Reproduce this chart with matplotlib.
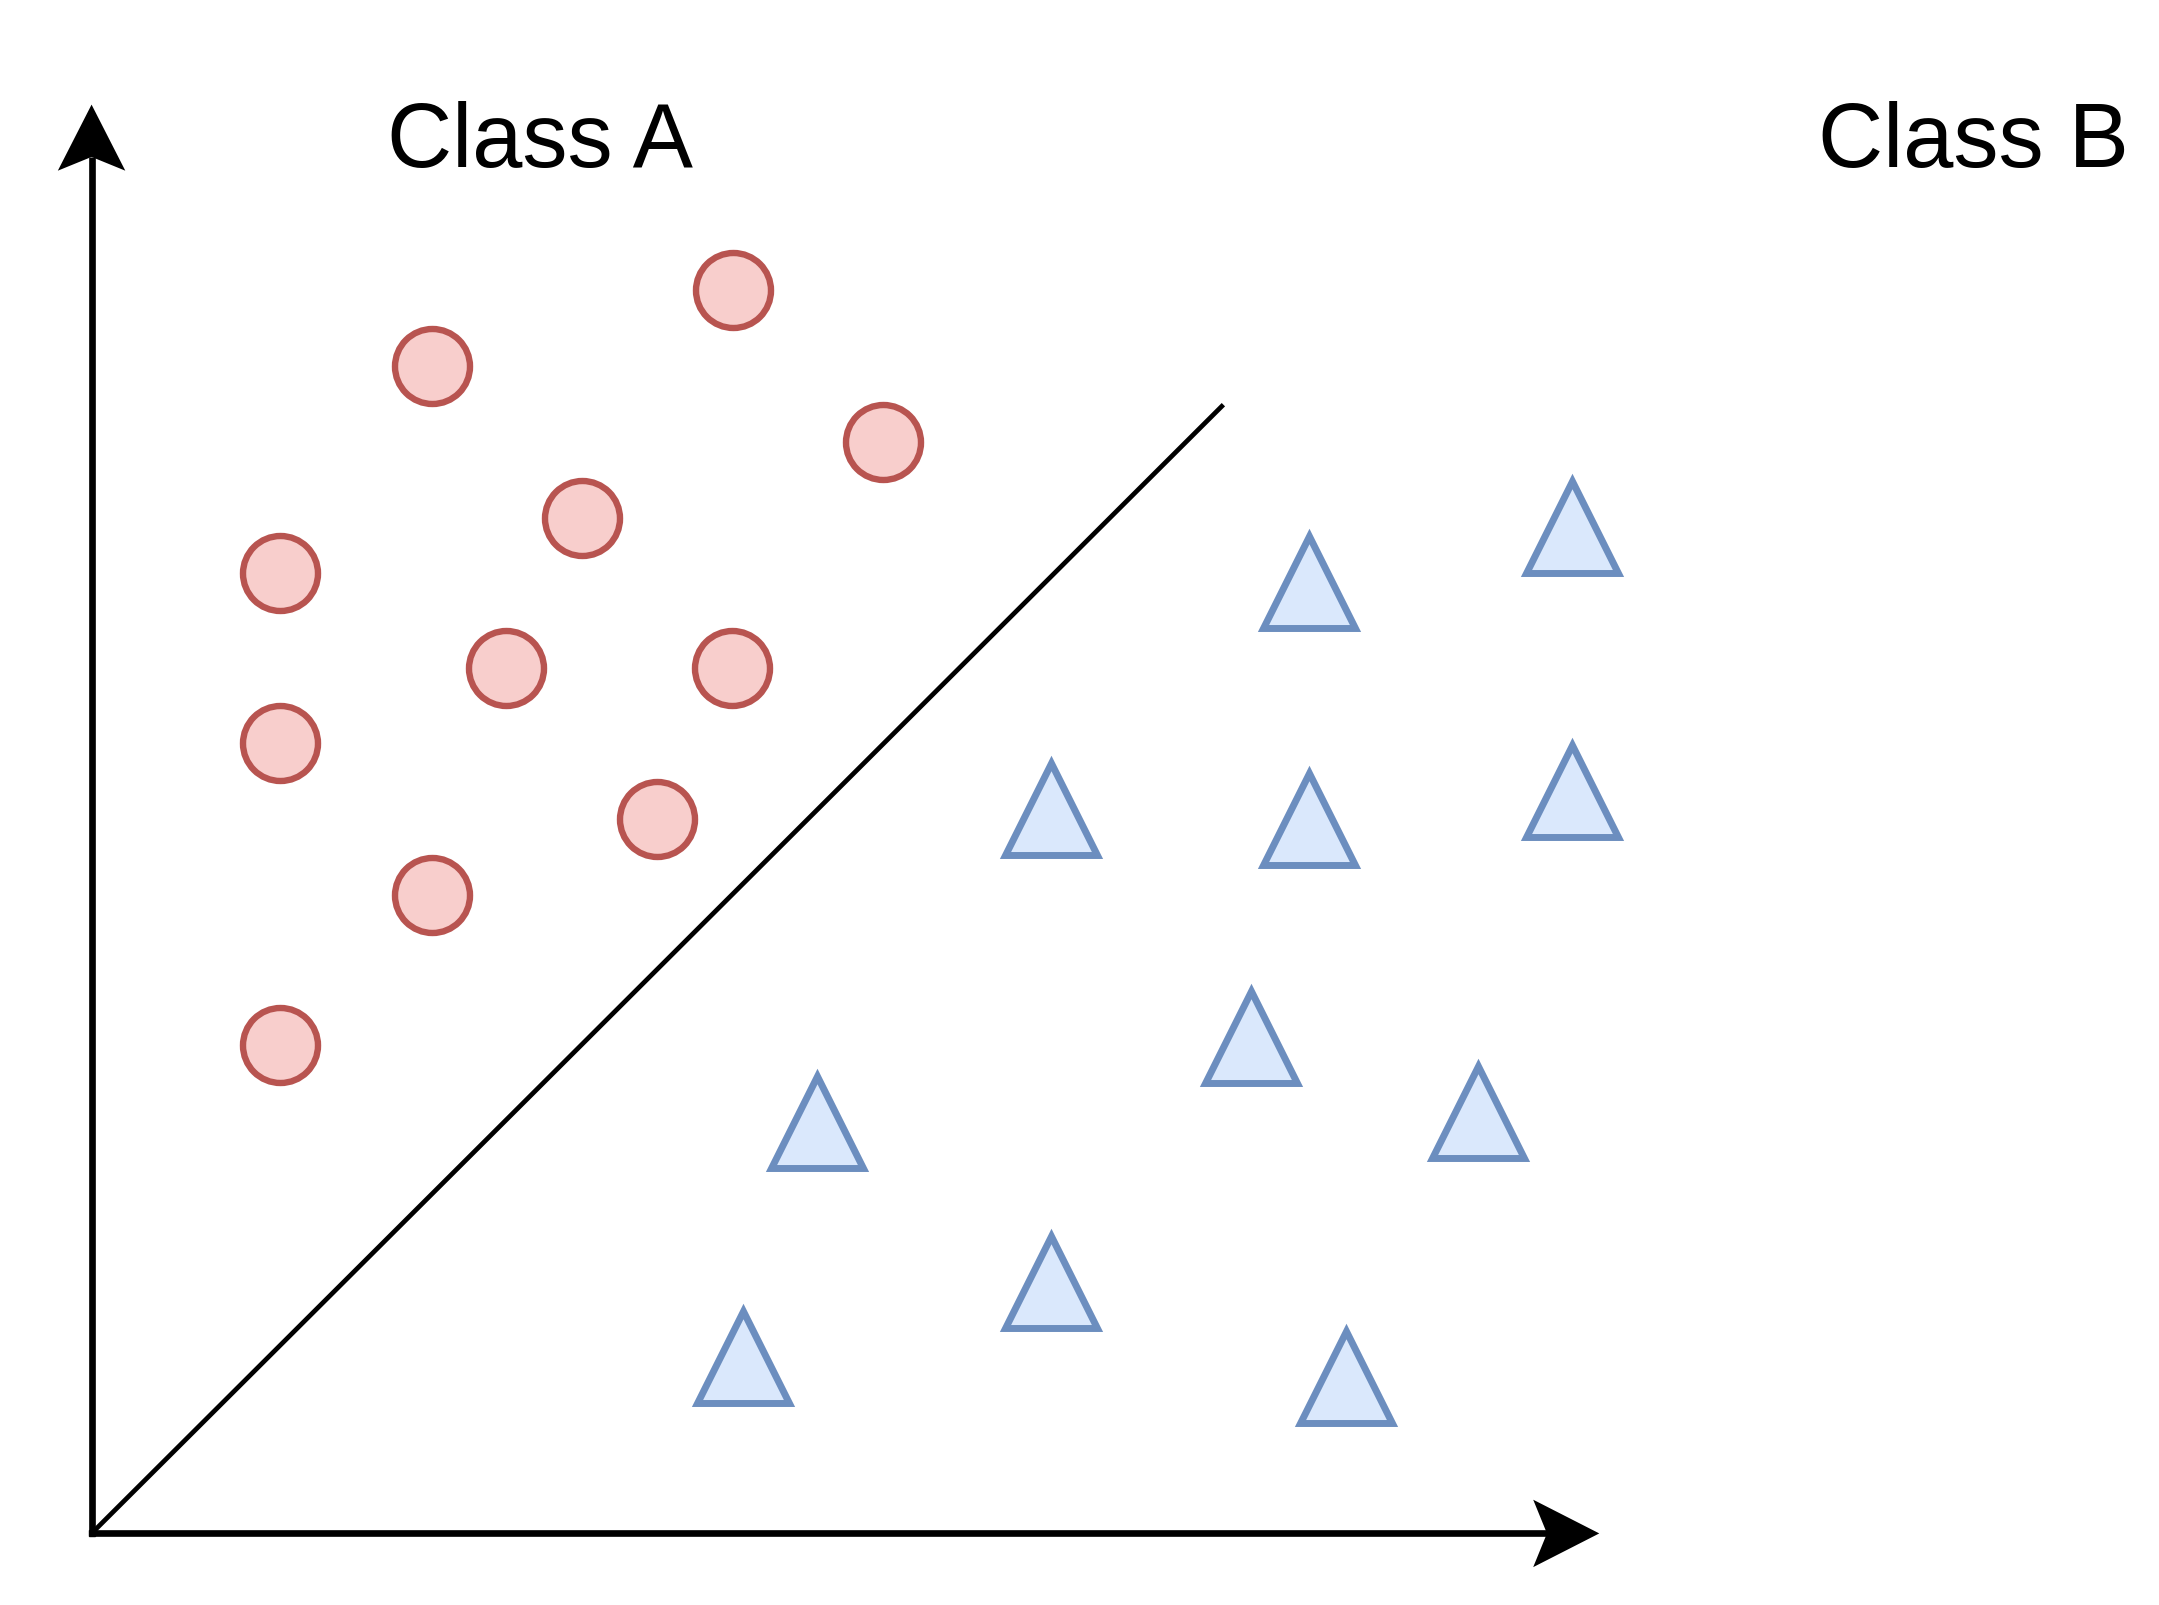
import matplotlib
matplotlib.use("Agg")
import matplotlib.pyplot as plt
from matplotlib.patches import Polygon

# ---- data (abstract units, origin at the axes corner) ----
class_a_x = [4.66, 2.47, 5.75, 3.56, 1.37, 3.01, 4.65, 1.37, 4.11, 2.47, 1.37]
class_a_y = [9.03, 8.48, 7.93, 7.38, 6.98, 6.29, 6.29, 5.74, 5.19, 4.64, 3.55]

class_b_x = [8.84, 10.75, 6.97, 8.84, 10.75, 8.42, 5.27, 10.07, 6.97, 4.73, 9.11]
class_b_y = [6.91, 7.31, 5.26, 5.19, 5.39, 3.61, 2.99, 3.06, 1.83, 1.28, 1.14]

boundary_x = [0.0, 8.22]
boundary_y = [0.0, 8.20]

labels = ["Class A", "Class B"]

# ---- figure ----
W, H = 2159, 1605
fig = plt.figure(figsize=(W / 100, H / 100), dpi=100)
ax = fig.add_axes([0, 0, 1, 1])
ax.set_xlim(-0.665, 15.015)
ax.set_ylim(-0.52, 11.14)
ax.axis("off")

# axes arrows
x_end, y_end = 10.95, 10.38
head_len, head_half, notch = 0.48, 0.245, 0.10
lw_axis = 4.8
ax.plot([0, x_end - head_len + notch], [0, 0], color="black", lw=lw_axis,
        solid_capstyle="butt", zorder=3)
ax.plot([0, 0], [0, y_end - head_len + notch], color="black", lw=lw_axis,
        solid_capstyle="butt", zorder=3)
ax.plot([0], [0], marker="s", markersize=lw_axis, color="black", zorder=3)
ax.add_patch(Polygon([(x_end, 0), (x_end - head_len, head_half),
                      (x_end - head_len + notch, 0), (x_end - head_len, -head_half)],
                     closed=True, color="black", lw=0, zorder=3))
ax.add_patch(Polygon([(0, y_end), (head_half, y_end - head_len),
                      (0, y_end - head_len + notch), (-head_half, y_end - head_len)],
                     closed=True, color="black", lw=0, zorder=3))

# decision boundary
ax.plot(boundary_x, boundary_y, color="black", lw=3.4, zorder=2,
        solid_capstyle="butt")

# points
ax.plot(class_a_x, class_a_y, linestyle="none", marker="o", markersize=54,
        markerfacecolor="#F8CECC", markeredgecolor="#B85450", markeredgewidth=4.6,
        zorder=4)
ax.plot(class_b_x, class_b_y, linestyle="none", marker="^", markersize=66,
        markerfacecolor="#DAE8FC", markeredgecolor="#6C8EBF", markeredgewidth=5.0,
        zorder=4)

# labels
ax.text(3.26, 9.93, labels[0], ha="center", va="baseline", fontsize=65,
        family="Liberation Sans", color="black")
ax.text(13.67, 9.93, labels[1], ha="center", va="baseline", fontsize=65,
        family="Liberation Sans", color="black")

fig.savefig("out.png", dpi=100, facecolor="white")
